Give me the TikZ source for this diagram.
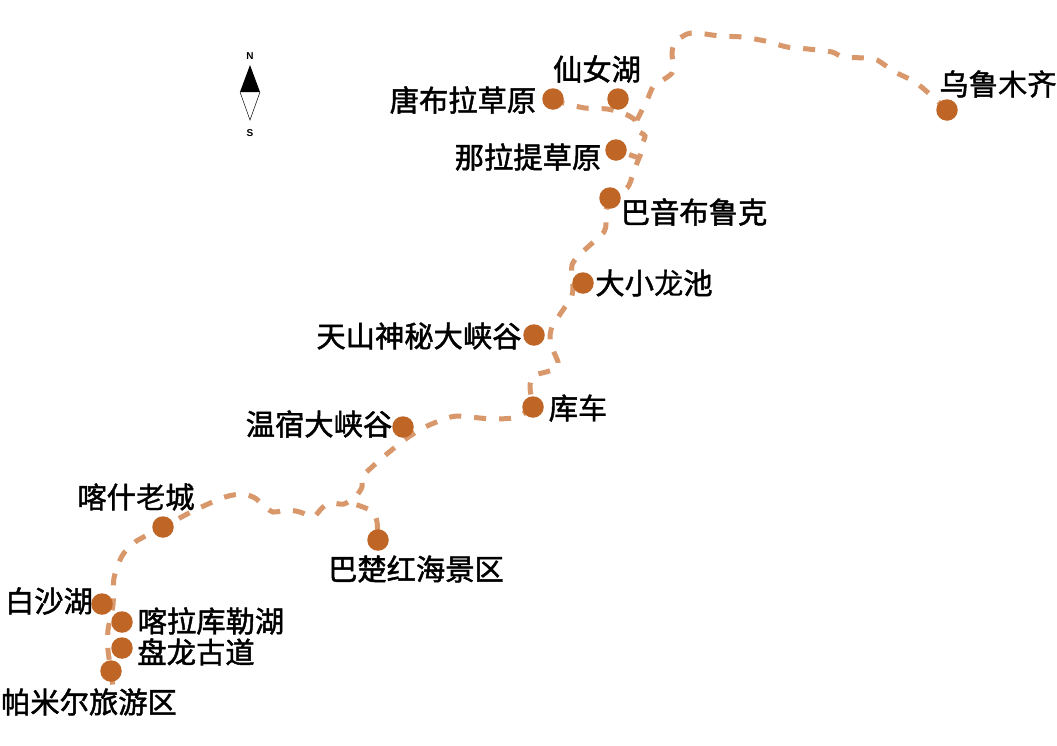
\documentclass[tikz,border=0pt]{standalone}
\usepackage{fontspec}
\setmainfont{Noto Sans CJK SC}
\newfontfamily\labfont[FakeBold=1.6]{Noto Sans CJK SC}
\newfontfamily\labreg[FakeBold=0.5]{Noto Sans CJK SC}
\newfontfamily\compassfont{Liberation Sans}
\newcommand{\lt}[1]{{\labreg #1}}
\definecolor{routec}{HTML}{D8986B}
\definecolor{dotc}{HTML}{BF6627}
\tikzset{
  route/.style={draw=routec,line width=5pt,dash pattern=on 12pt off 13pt},
  stop/.style={circle,fill=dotc,draw=none,minimum size=21.5pt,inner sep=0pt},
  lab/.style={inner sep=0pt,font=\labfont\fontsize{29.3pt}{31pt}\selectfont,text=black},
  compass/.style={inner sep=0pt,font=\compassfont\bfseries\fontsize{10pt}{11pt}\selectfont,text=black}
}
\begin{document}
\begin{tikzpicture}[x=1pt,y=-1pt]
\useasboundingbox (0,0) rectangle (1057,745);
\fill[white] (0,0) rectangle (1057,745);
% stop positions
\coordinate (wlmq) at (947,110);
\coordinate (xn) at (618,99);
\coordinate (tbl) at (553,99);
\coordinate (nlt) at (616,150);
\coordinate (bybk) at (610,198);
\coordinate (dxlc) at (583,283);
\coordinate (tssm) at (534,335);
\coordinate (kc) at (533,407);
\coordinate (wsu) at (403,427);
\coordinate (ks) at (163,527);
\coordinate (bc) at (378,540);
\coordinate (bsh) at (102,604);
\coordinate (klk) at (122,622);
\coordinate (pl) at (122,648);
\coordinate (pm) at (111,671);
\coordinate (jn1) at (637,120);
\coordinate (jn2) at (639,158);
\coordinate (jn3) at (344,504);
\coordinate (rend) at (114,695);
% routes
\draw[route] plot[smooth,tension=0.45] coordinates {(wlmq) (933,97) (915,82) (895,72) (877,60) (865,58) (843,57) (832,52) (808,49) (787,47) (765,41) (742,37) (720,36) (697,33) (687,34) (675,42) (672,53) (673,63) (672,73) (663,80) (653,87) (648,98) (643,108) (jn1)};
\draw[route] plot[smooth,tension=0.45] coordinates {(tbl) (563,103) (585,108) (607,109) (623,113) (635,120) (637,130) (645,136) (641,146) (641,153) (637,163) (632,177) (627,188) (bybk)};
\draw[route,dash pattern=on 10pt off 4pt] (nlt) -- (jn2);
\draw[route] plot[smooth,tension=0.45] coordinates {(bybk) (606,210) (606,223) (604,232) (589,246) (578,256) (572,265) (572,278) (573,288) (571,299) (565,307) (552,327) (550,340) (553,350) (558,362) (557,368) (546,372) (533,376) (530,387) (kc)};
\draw[route] plot[smooth,tension=0.45] coordinates {(kc) (523,414) (513,418) (492,419) (470,417) (458,416) (447,418) (425,427) (407,438) (388,453) (372,467) (362,477) (362,487) (356,496) (jn3) (330,503) (322,508) (313,517) (300,512) (287,510) (273,512) (263,505) (255,498) (243,494) (225,497) (195,510) (ks) (135,542) (122,556) (114,578) (113,605) (108,630) (108,650) (pm) (rend)};
\draw[route,dash phase=15pt] plot[smooth,tension=0.45] coordinates {(bc) (377,522) (373,512) (363,507) (353,504) (jn3)};
% stops
\node[stop] (nwlmq) at (wlmq) {};
\node[stop] (nxn) at (xn) {};
\node[stop] (ntbl) at (tbl) {};
\node[stop] (nnlt) at (nlt) {};
\node[stop] (nbybk) at (bybk) {};
\node[stop] (ndxlc) at (dxlc) {};
\node[stop] (ntssm) at (tssm) {};
\node[stop] (nkc) at (kc) {};
\node[stop] (nwsu) at (wsu) {};
\node[stop] (nks) at (ks) {};
\node[stop] (nbc) at (bc) {};
\node[stop] (nbsh) at (bsh) {};
\node[stop] (nklk) at (klk) {};
\node[stop] (npl) at (pl) {};
\node[stop] (npm) at (pm) {};
% labels
\node[lab] (l1) at (463,100) {唐布拉草原};
\node[lab] (l2) at (597,69) {仙女湖};
\node[lab] (l3) at (528,157) {那拉提草原};
\node[lab] (l4) at (694,212) {巴音布鲁克};
\node[lab] (l5) at (998,84) {乌鲁\lt{木}齐};
\node[lab] (l6) at (654,283) {大小\lt{龙}池};
\node[lab] (l7) at (419,336) {天山神秘大峡谷};
\node[lab] (l8) at (578,408) {库\lt{车}};
\node[lab] (l9) at (319,424) {温宿大峡谷};
\node[lab] (l10) at (136,497) {喀什\lt{老}城};
\node[lab] (l11) at (416,569) {巴楚红海景区};
\node[lab] (l12) at (49,601) {白沙湖};
\node[lab] (l13) at (211,621) {喀拉库勒湖};
\node[lab] (l14) at (196,652) {盘龙\lt{古}道};
\node[lab] (l15) at (89,702) {帕米尔旅游区};
% compass
\node[compass] (cn) at (250,56) {N};
\node[compass] (cs) at (250,133) {S};
\fill[black] (250,65) -- (260,92) -- (240,92) -- cycle;
\draw[black,line width=0.5pt] (240,92) -- (250,120) -- (260,92);
\end{tikzpicture}
\end{document}
